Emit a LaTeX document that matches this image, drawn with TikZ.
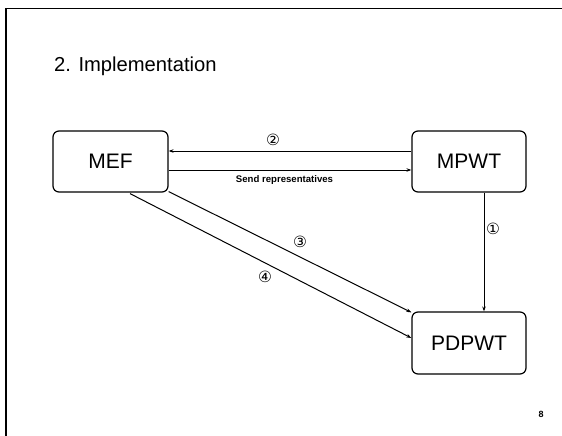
\documentclass[tikz,border=0pt]{standalone}
\usepackage{fontspec}
\setmainfont{Liberation Sans}
\newfontfamily\symfont{DejaVu Sans}
\usetikzlibrary{arrows.meta,calc}
\begin{document}
\begin{tikzpicture}[x=1pt,y=-1pt,
  boxnode/.style={draw,line width=1.2pt,rounded corners=6pt,inner sep=0pt,font=\fontsize{21}{21}\selectfont},
  conn/.style={line width=1pt,-{Stealth[length=5pt,width=3.5pt]}},
  circnum/.style={inner sep=0pt,font=\symfont\fontsize{15.5}{15.5}\selectfont},
  lbl/.style={inner sep=0pt,font=\bfseries\fontsize{9.6}{9.6}\selectfont}]
\useasboundingbox (0,0) rectangle (562,436);
% frame
\draw[line width=2pt] (6,436) -- (6,8.5);
\draw[line width=1.4pt] (5,8.5) -- (562,8.5);
% title
\node[anchor=west,inner sep=0pt,font=\fontsize{20.2}{20.2}\selectfont] (title) at (54,66) {2. Implementation};
% boxes
\node[boxnode,minimum width=115pt,minimum height=61pt] (mef) at (110.5,161.5) {MEF};
\node[boxnode,minimum width=114pt,minimum height=61pt] (mpwt) at (469,161.5) {MPWT};
\node[boxnode,minimum width=114pt,minimum height=62pt] (pdpwt) at (469,343) {PDPWT};
% anchors
\coordinate (m2a) at ($(mpwt.west)+(0,-10.5)$);
\coordinate (m2b) at ($(mef.east)+(0,-10.5)$);
\coordinate (s1) at ($(mef.east)+(0,8.5)$);
\coordinate (s2) at ($(mpwt.west)+(0,8.5)$);
\coordinate (v1) at ($(mpwt.south)+(15,0)$);
\coordinate (v2) at ($(pdpwt.north)+(15,0)$);
\coordinate (d3a) at ($(mef.south east)+(0,-1)$);
\coordinate (d3b) at ($(pdpwt.north west)+(0,1)$);
\coordinate (d4a) at ($(mef.south)+(19.5,1)$);
\coordinate (d4b) at ($(pdpwt.west)+(0,-5)$);
% connectors
\draw[conn] (m2a) -- (m2b);
\draw[conn] (s1) -- (s2);
\draw[conn] (v1) -- (v2);
\draw[conn] (d3a) -- (d3b);
\draw[conn] (d4a) -- (d4b);
% labels
\node[circnum] (l2) at (273,140) {②};
\node[circnum] (l1) at (493,229) {①};
\node[circnum] (l3) at (300,242) {③};
\node[circnum] (l4) at (265,277) {④};
\node[lbl] (send) at (284.5,180) {Send representatives};
\node[inner sep=0pt,font=\bfseries\fontsize{9}{9}\selectfont] (page) at (541,414) {8};
\end{tikzpicture}
\end{document}
